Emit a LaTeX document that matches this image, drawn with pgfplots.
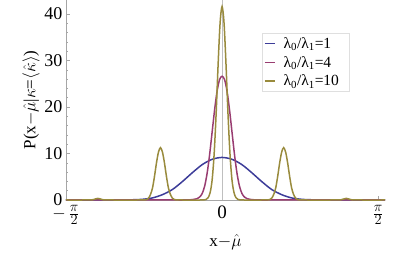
\documentclass[border=0pt]{standalone}
\usepackage{fontspec}
\setmainfont{Liberation Serif}
\usepackage{pgfplots}
\pgfplotsset{compat=1.18}
\definecolor{mblue}{rgb}{0.24,0.24,0.6}
\definecolor{mmag}{rgb}{0.6,0.24,0.442}
\definecolor{mgold}{rgb}{0.6,0.547,0.24}
\begin{document}
\begin{tikzpicture}
\path[use as bounding box] (-66pt,-59pt) rectangle (349pt,200pt);
\begin{axis}[
  scale only axis,
  width=319pt, height=200pt,
  xmin=-1.5708, xmax=1.64,
  ymin=0, ymax=43,
  axis lines=left,
  axis line style={gray!70, -},
  every tick/.style={gray!70},
  tick align=inside,
  major tick length=4pt,
  minor tick length=2.5pt,
  ytick={0,10,20,30,40},
  minor y tick num=4,
  xtick={-1.5708,0,1.5708},
  xticklabels={$-\,\frac{\pi}{2}$,0,$\frac{\pi}{2}$},
  /pgf/number format/assume math mode=true,
  tick label style={font=\fontsize{18}{20}\selectfont, black},
  xticklabel style={font=\fontsize{19}{20}\selectfont, yshift=-2pt},
  xlabel={x$-\hat{\mu}$},
  ylabel={P(x$-\hat{\mu}$|$\kappa$=$\langle\hat{\kappa}\rangle$)},
  label style={font=\fontsize{17}{20}\selectfont},
  xlabel style={yshift=-3pt},
  ylabel style={yshift=-2pt},
  legend style={at={(0.614,0.835)}, anchor=north west, draw=gray!25,
    font=\fontsize{15.5}{18}\selectfont, row sep=2.5pt, inner sep=2pt,
    legend cell align=left,
    /tikz/every odd column/.append style={column sep=6pt},
    /tikz/every even column/.append style={text width=62pt}},
  legend image code/.code={\draw[#1, line width=1.5pt] plot coordinates {(0pt,0pt) (10pt,0pt)};},
  clip=false,
]
\addplot[gray!50, thin, forget plot] coordinates {(0,0) (0,43)};
\addplot[color=mblue, line width=1.5pt, smooth] coordinates {
(-1.5708,0) (-1.3,0) (-1.1,0.01) (-1.0,0.02) (-0.9,0.05) (-0.8,0.15) (-0.7,0.45)
(-0.6,1.15) (-0.5,2.25) (-0.4,3.95) (-0.3,5.85) (-0.2,7.6) (-0.1,8.75) (0,9.15)
(0.1,8.75) (0.2,7.6) (0.3,5.85) (0.4,3.95) (0.5,2.25) (0.6,1.15) (0.7,0.45)
(0.8,0.15) (0.9,0.05) (1.0,0.02) (1.1,0.01) (1.3,0) (1.64,0)};
\addlegendentry{λ\textsubscript{0}/λ\textsubscript{1}=1}
\addplot[color=mmag, line width=1.5pt, smooth] coordinates {
(-1.5708,0) (-0.5,0) (-0.4,0) (-0.35,0.02) (-0.3,0.08) (-0.25,0.3) (-0.225,0.65)
(-0.2,1.4) (-0.175,3.0) (-0.15,5.8) (-0.125,9.8) (-0.1,14.6) (-0.075,19.4)
(-0.05,23.4) (-0.025,25.9) (0,26.6) (0.025,25.9) (0.05,23.4) (0.075,19.4)
(0.1,14.6) (0.125,9.8) (0.15,5.8) (0.175,3.0) (0.2,1.4) (0.225,0.65) (0.25,0.3)
(0.3,0.08) (0.35,0.02) (0.4,0) (0.5,0) (1.64,0)};
\addlegendentry{λ\textsubscript{0}/λ\textsubscript{1}=4}
\addplot[color=mgold, line width=1.5pt, smooth] coordinates {
(-1.5708,0) (-1.4,0) (-1.33,0.01) (-1.3,0.06) (-1.275,0.22) (-1.25,0.35) (-1.225,0.22)
(-1.2,0.06) (-1.17,0.01) (-1.1,0) (-0.85,0) (-0.78,0.02) (-0.76,0.1) (-0.74,0.4)
(-0.72,1.2) (-0.70,2.6) (-0.68,5.1) (-0.66,8.0) (-0.64,10.3) (-0.62,11.25)
(-0.60,10.3) (-0.58,8.0) (-0.56,5.1) (-0.54,2.6) (-0.52,1.2) (-0.50,0.4)
(-0.48,0.1) (-0.46,0.02) (-0.4,0) (-0.22,0) (-0.18,0.03) (-0.16,0.13) (-0.14,0.5)
(-0.12,1.6) (-0.10,4.3) (-0.08,9.8) (-0.06,18.4) (-0.04,29.0) (-0.02,38.0) (0,41.6)
(0.02,38.0) (0.04,29.0) (0.06,18.4) (0.08,9.8) (0.10,4.3) (0.12,1.6) (0.14,0.5)
(0.16,0.13) (0.18,0.03) (0.22,0) (0.4,0) (0.46,0.02) (0.48,0.1) (0.50,0.4)
(0.52,1.2) (0.54,2.6) (0.56,5.1) (0.58,8.0) (0.60,10.3) (0.62,11.25) (0.64,10.3)
(0.66,8.0) (0.68,5.1) (0.70,2.6) (0.72,1.2) (0.74,0.4) (0.76,0.1) (0.78,0.02)
(0.85,0) (1.1,0) (1.17,0.01) (1.2,0.06) (1.225,0.22) (1.25,0.35) (1.275,0.22)
(1.3,0.06) (1.33,0.01) (1.4,0) (1.64,0)};
\addlegendentry{λ\textsubscript{0}/λ\textsubscript{1}=10}
\end{axis}
\end{tikzpicture}
\end{document}
